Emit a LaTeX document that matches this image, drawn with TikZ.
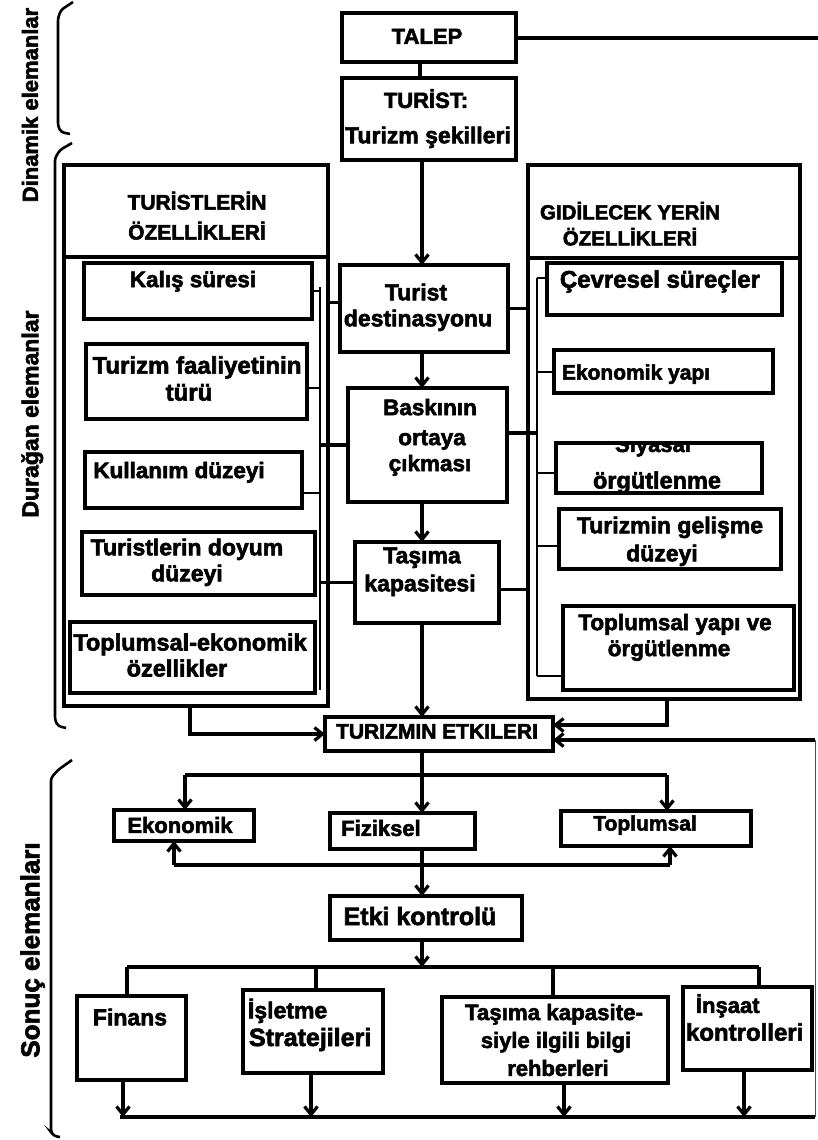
\documentclass[tikz,border=0pt]{standalone}
\usepackage{fontspec}
\setmainfont{Liberation Sans}[BoldFeatures={FakeBold=2.5}]
\usetikzlibrary{arrows.meta}
\tikzset{
 boxst/.style={draw=black, line width=3.2pt, inner sep=0pt, outer sep=0pt},
 conn/.style={draw=black, line width=3.2pt},
 busline/.style={draw=black, line width=2pt},
 edgeline/.style={draw=black!70, line width=1pt},
 arr/.style={conn, -{Straight Barb[length=8pt,width=13pt]}},
 tx/.style={inner sep=0pt, outer sep=0pt, text=black, align=center},
 brk/.style={draw=black, line width=2.6pt, rounded corners=3pt},
}
\newcommand\bx[6][]{\node[boxst,#1,minimum width={(#5-#3)*1pt},minimum height={(#6-#4)*1pt}] (#2) at ({(#3+#5)/2},{(#4+#6)/2}) {};}
\newcommand\tl[5][]{\pgfmathsetmacro\tlH{0.72*#4}\node[tx,#1,font=\bfseries\fontsize{#4}{#4}\selectfont,text height=\tlH pt,text depth=0pt] (#2) at (#3) {#5};}
\begin{document}
\begin{tikzpicture}[x=1pt,y=-1pt]
\fill[white] (0,0) rectangle (818,1140);
\useasboundingbox (0,0) rectangle (818,1140);

% brackets
\draw[brk] (73,2) -- (61,10) -- (58,18) -- (58,126) -- (61,132) -- (70,134);
\draw[brk] (72,143) -- (60,150) -- (55,158) -- (55,720) -- (58,726) -- (66,728);
\draw[brk] (72,760) -- (58,770) -- (51,778) -- (51,1132) -- (54,1136) -- (60,1137);

% side labels
\tl[rotate=90]{lab1}{30,105}{22}{Dinamik elemanlar}
\tl[rotate=90]{lab2}{30,414}{23}{Durağan elemanlar}
\tl[rotate=90]{lab3}{30,950}{26}{Sonuç elemanları}

% boxes
\bx{talep}{342}{13}{516}{62}
\bx{turist}{342}{78}{516}{160}
\bx{lbox}{64}{165}{328}{706}
\bx{rbox}{528}{165}{800}{699}
\coordinate (lh) at (0,257);
\coordinate (rh) at (0,258);
\draw[boxst] (lbox.west |- lh) -- (lbox.east |- lh);
\draw[boxst] (rbox.west |- rh) -- (rbox.east |- rh);

\bx{kalis}{84}{263}{312}{319}
\bx{faal}{86}{344}{307}{419}
\bx{kull}{85}{452}{302}{508}
\bx{doyum}{82}{532}{315}{595}
\bx{topek}{70}{622}{315}{693}

\bx{dest}{340}{265}{508}{352}
\bx{bask}{348}{388}{507}{502}
\bx{tasima}{355}{542}{499}{623}

\bx{cevre}{547}{263}{782}{315}
\bx{ekyapi}{554}{350}{773}{393}
\bx{siyasal}{556}{443}{762}{493}
\bx{gelisme}{559}{509}{781}{569}
\bx{topyapi}{563}{606}{794}{690}

\bx{etkiler}{325}{717}{553}{751}
\bx{ekon}{114}{810}{254}{841}
\bx{fiz}{330}{813}{475}{849}
\bx{topl}{561}{811}{751}{846}
\bx{etki}{330}{896}{522}{940}

\bx{finans}{77}{996}{186}{1080}
\bx{islet}{243}{990}{383}{1073}
\bx{tasbilgi}{442}{997}{668}{1083}
\bx{insaat}{683}{987}{812}{1070}

% texts
\tl{t_talep}{427,36}{22}{TALEP}
\tl{t_tur1}{426,100}{22}{TURİST:}
\tl{t_tur2}{428,135}{23}{Turizm şekilleri}
\tl{t_lh1}{197,202}{21}{TURİSTLERİN}
\tl{t_lh2}{197,232}{21}{ÖZELLİKLERİ}
\tl{t_rh1}{630,212}{20.5}{GIDİLECEK YERİN}
\tl{t_rh2}{630,238}{20.5}{ÖZELLİKLERİ}

\tl{t_kalis}{193,279}{22.5}{Kalış süresi}
\tl{t_faal1}{197,365}{24}{Turizm faaliyetinin}
\tl{t_faal2}{189,392}{24}{türü}
\tl{t_kull}{179,470}{22.5}{Kullanım düzeyi}
\tl{t_doy1}{187,547}{23}{Turistlerin doyum}
\tl{t_doy2}{187,573}{23}{düzeyi}
\tl{t_tek1}{190,642}{23.5}{Toplumsal-ekonomik}
\tl{t_tek2}{177,668}{23.5}{özellikler}

\tl{t_dest1}{416,292}{23}{Turist}
\tl{t_dest2}{418,318}{23}{destinasyonu}
\tl{t_bask1}{430,407}{22.5}{Baskının}
\tl{t_bask2}{432,437}{22.5}{ortaya}
\tl{t_bask3}{430,463}{22.5}{çıkması}
\tl{t_tas1}{422,555}{23}{Taşıma}
\tl{t_tas2}{420,583}{23}{kapasitesi}

\tl{t_cevre}{660,279}{24}{Çevresel süreçler}
\tl{t_ekyapi}{636,372}{21}{Ekonomik yapı}
\begin{scope}
\clip (556,444) rectangle (762,493);
\tl{t_siy1}{653,444}{22}{Siyasal}
\end{scope}
\tl{t_siy2}{657,480}{23.5}{örgütlenme}
\tl{t_gel1}{670,525}{23}{Turizmin gelişme}
\tl{t_gel2}{662,553}{23}{düzeyi}
\tl{t_tyo1}{675,622}{22.5}{Toplumsal yapı ve}
\tl{t_tyo2}{669,648}{22.5}{örgütlenme}

\tl{t_etkiler}{437,731}{21}{TURIZMIN ETKILERI}
\tl{t_ekon}{180,825}{22}{Ekonomik}
\tl{t_fiz}{381,828}{22}{Fiziksel}
\tl{t_topl}{645,823}{21}{Toplumsal}
\tl{t_etki}{420,916}{25}{Etki kontrolü}

\tl{t_fin}{130,1017}{23}{Finans}
\tl[anchor=west]{t_isl1}{248,1010}{23}{İşletme}
\tl[anchor=west]{t_isl2}{249,1037}{25}{Stratejileri}
\tl{t_tb1}{554,1012}{22.3}{Taşıma kapasite-}
\tl{t_tb2}{556,1040}{22}{siyle ilgili bilgi}
\tl{t_tb3}{558,1068}{22}{rehberleri}
\tl[anchor=west]{t_ins1}{696,1005}{22}{İnşaat}
\tl[anchor=west]{t_ins2}{686,1032}{24}{kontrolleri}

% helper coordinates
\coordinate (cxa) at (420,0);
\coordinate (cx) at (422,0);
\coordinate (tright) at (818,38);
\coordinate (lbt) at (320,287);
\coordinate (lbb) at (320,690);
\coordinate (rbt) at (537,278);
\coordinate (rbb) at (537,676);

% top connectors
\draw[conn] (talep.south -| cxa) -- (turist.north -| cxa);
\draw[conn] (talep.east |- tright) -- (tright);
\draw[arr] (turist.south -| cx) -- (dest.north -| cx);
\draw[arr] (dest.south -| cx) -- (bask.north -| cx);
\draw[arr] (bask.south -| cx) -- (tasima.north -| cx);
\draw[arr] (tasima.south -| cx) -- (etkiler.north -| cx);

% left bus
\draw[busline] (lbt) -- (lbb);
\draw[busline] (kalis.east) -- (kalis.east -| lbt);
\coordinate (faalc) at ([yshift=-6pt]faal.east);
\draw[busline] (faalc) -- (faalc -| lbt);
\coordinate (kullc) at ([yshift=-13pt]kull.east);
\draw[busline] (kullc) -- (kullc -| lbt);
\coordinate (destl) at ([yshift=6pt]dest.west);
\draw[conn] (destl) -- (destl -| lbox.east);
\draw[conn] (bask.west) -- (bask.west -| lbt);
\draw[conn] (tasima.west) -- (tasima.west -| lbt);

% right bus
\draw[busline] (rbt) -- (rbb);
\draw[conn] (dest.east) -- (dest.east -| rbox.west);
\coordinate (baskr) at ([yshift=12pt]bask.east);
\draw[conn] (baskr) -- (baskr -| rbt);
\coordinate (tasr) at ([yshift=-7pt]tasima.east);
\draw[conn] (tasr) -- (tasr -| rbox.west);
\coordinate (cevrec) at ([yshift=11pt]cevre.west);
\draw[busline] (cevrec) -- (cevrec -| rbt);
\draw[busline] (ekyapi.west) -- (ekyapi.west -| rbt);
\coordinate (siyc) at ([yshift=-5pt]siyasal.west);
\draw[busline] (siyc) -- (siyc -| rbt);
\coordinate (gelc) at ([yshift=-7pt]gelisme.west);
\draw[busline] (gelc) -- (gelc -| rbt);
\coordinate (tyoc) at ([yshift=-28pt]topyapi.west);
\draw[busline] (tyoc) -- (tyoc -| rbt);

% into TURIZMIN ETKILERI
\coordinate (lx) at (190,0);
\coordinate (rx) at (667,0);
\draw[arr] (lbox.south -| lx) |- (etkiler.west);
\coordinate (e1) at ([yshift=9pt]etkiler.east);
\coordinate (e2) at ([yshift=-6pt]etkiler.east);
\draw[arr] (rbox.south -| rx) |- (e1);

% effects distribution
\coordinate (b1l) at (185,775);
\coordinate (b1r) at (667,775);
\draw[conn] (b1l) -- (b1r);
\draw[arr] (b1l) -- (ekon.north -| b1l);
\draw[arr] (b1r) -- (topl.north -| b1r);
\draw[arr] (etkiler.south -| cx) -- (fiz.north -| cx);
\coordinate (b2l) at (174,865);
\coordinate (b2r) at (670,865);
\draw[conn] (b2l) -- (b2r);
\draw[arr] (b2l) -- (ekon.south -| b2l);
\draw[arr] (b2r) -- (topl.south -| b2r);
\draw[arr] (fiz.south -| cx) -- (etki.north -| cx);

% control distribution
\coordinate (b3l) at (127,967);
\coordinate (b3r) at (759,967);
\coordinate (d2) at (316,967);
\coordinate (d3) at (553,967);
\draw[conn] (b3l) -- (b3r);
\draw[arr] (etki.south -| cx) -- (d2 -| cx);
\draw[conn] (b3l) -- (finans.north -| b3l);
\draw[conn] (d2) -- (islet.north -| d2);
\draw[conn] (d3) -- (tasbilgi.north -| d3);
\draw[conn] (b3r) -- (insaat.north -| b3r);

% bottom feedback
\coordinate (b4l) at (120,1117);
\coordinate (b4r) at (815,1117);
\coordinate (fbt) at (815,740);
\coordinate (f1) at (123,0);
\coordinate (f2) at (311,0);
\coordinate (f3) at (564,0);
\coordinate (f4) at (744,0);
\draw[conn] (b4l) -- (b4r);
\draw[arr] (finans.south -| f1) -- (b4l -| f1);
\draw[arr] (islet.south -| f2) -- (b4l -| f2);
\draw[arr] (tasbilgi.south -| f3) -- (b4l -| f3);
\draw[arr] (insaat.south -| f4) -- (b4l -| f4);
\draw[edgeline] (b4r) -- (fbt);
\draw[conn] (fbt) -- (e2 -| fbt);
\draw[arr] (e2 -| fbt) -- (e2);
\end{tikzpicture}
\end{document}
